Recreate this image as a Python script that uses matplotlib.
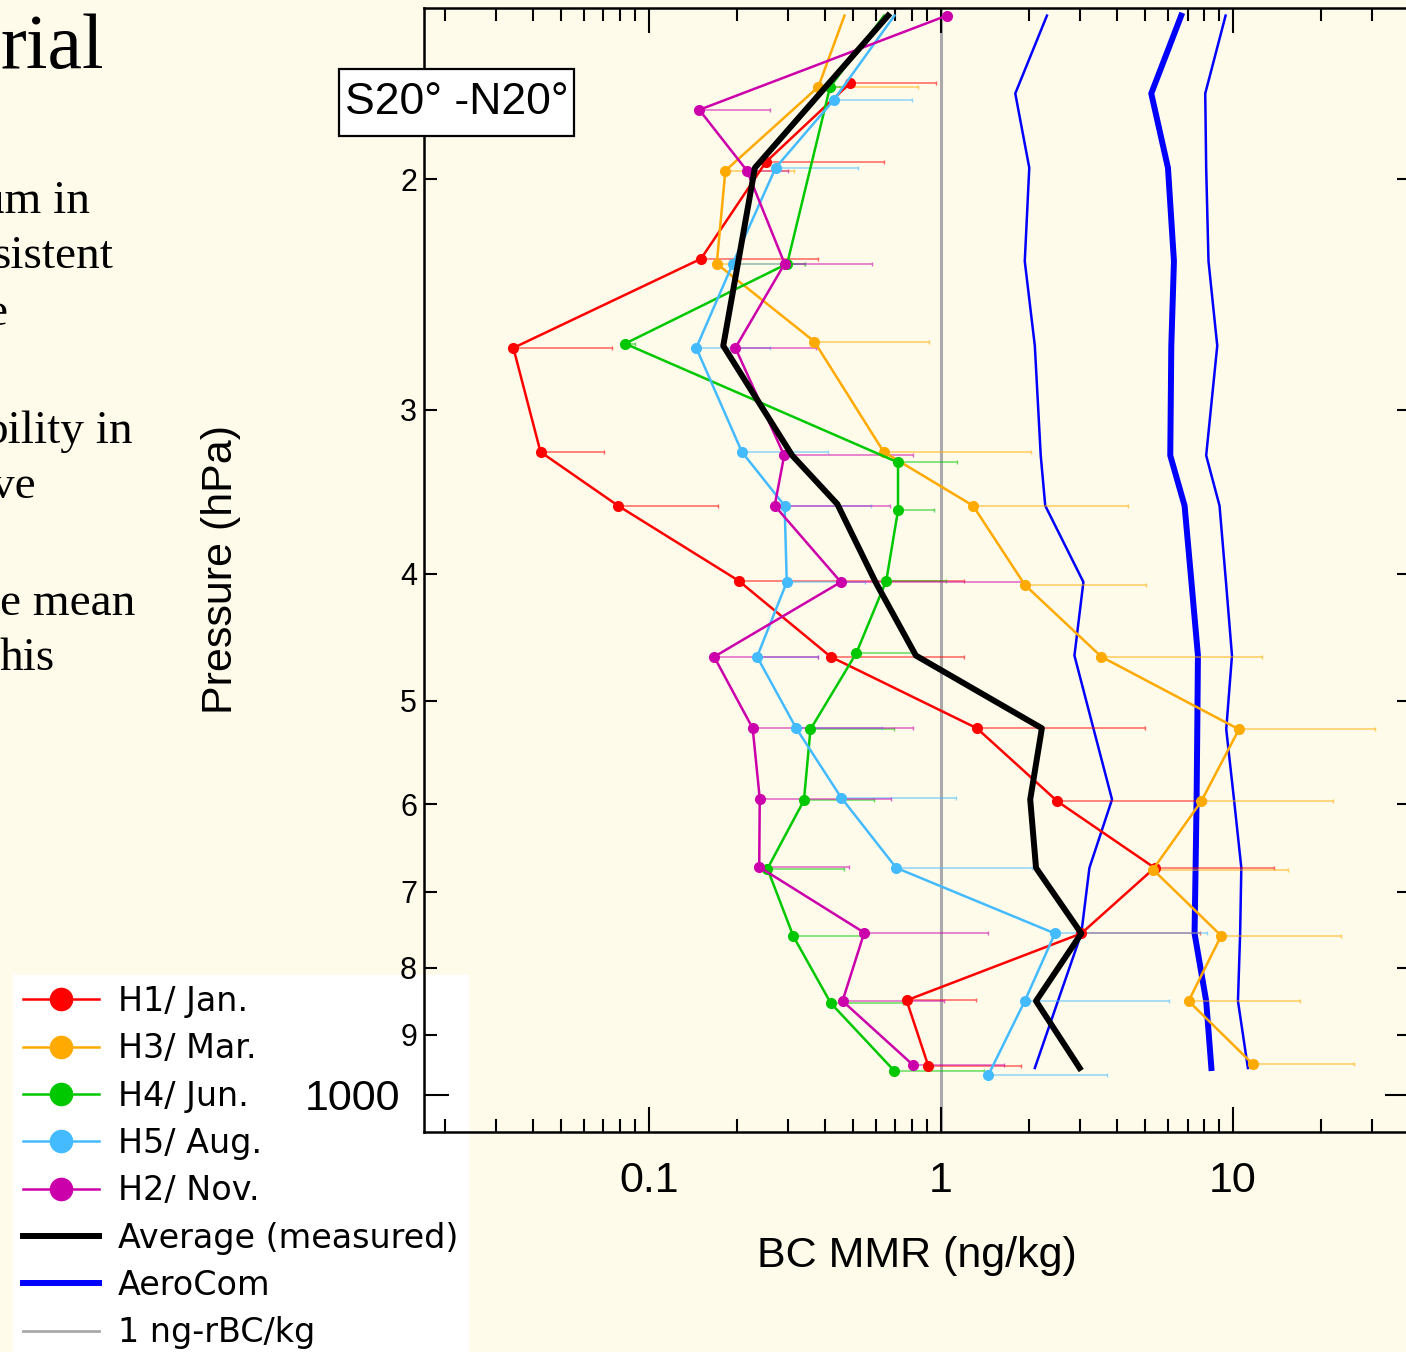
import matplotlib
matplotlib.use("Agg")
import matplotlib.pyplot as plt
import numpy as np
from matplotlib.lines import Line2D
from matplotlib.patches import Rectangle
from matplotlib.ticker import FixedLocator, FuncFormatter, NullFormatter

plt.rcParams["font.family"] = ["Liberation Sans", "DejaVu Sans"]

CREAM = "#FFFBEB"

# --- data --------------------------------------------------------------------
# pressure (hPa) / BC MMR (ng/kg) / upper end of the error bar
RED_P = [169, 194, 230, 269, 323, 355, 405, 463, 525, 597, 671, 753, 847, 950]
RED_X = [0.488, 0.252, 0.151, 0.0344, 0.0426, 0.0785, 0.203, 0.420, 1.33, 2.51, 5.40, 3.03, 0.764, 0.906]
RED_HI = [0.96, 0.638, 0.381, 0.075, 0.0705, 0.173, 1.20, 1.205, 4.99, 8.11, 13.8, 7.74, 1.32, 1.886]

ORANGE_P = [150, 170, 197, 232, 266, 323, 355, 408, 463, 526, 597, 673, 756, 848, 948]
ORANGE_X = [0.468, 0.381, 0.183, 0.171, 0.369, 0.638, 1.29, 1.94, 3.55, 10.5, 7.80, 5.33, 9.13, 7.06, 11.75]
ORANGE_HI = [np.nan, 0.838, 0.315, 0.34, 0.913, 2.03, 4.37, 5.04, 12.6, 30.8, 22.0, 15.5, 23.5, 17.0, 26.1]

GREEN_P = [150, 170, 232, 267, 329, 358, 405, 460, 526, 596, 672, 757, 851, 959]
GREEN_X = [0.64, 0.418, 0.298, 0.083, 0.714, 0.714, 0.651, 0.514, 0.358, 0.340, 0.255, 0.313, 0.420, 0.694]
GREEN_HI = [np.nan, 0.47, 0.343, 0.09, 1.136, 0.952, 1.04, 0.81, 0.694, 0.592, 0.466, 0.547, 0.744, 1.41]

CYAN_P = [150, 174, 196, 232, 269, 323, 355, 406, 463, 525, 593, 671, 753, 848, 966]
CYAN_X = [0.694, 0.430, 0.272, 0.194, 0.1455, 0.2085, 0.292, 0.297, 0.235, 0.320, 0.456, 0.704, 2.46, 1.94, 1.455]
CYAN_HI = [np.nan, 0.798, 0.52, 0.343, 0.261, 0.412, 0.578, 0.55, 0.379, 0.629, 1.126, 2.05, 8.18, 6.05, 3.70]

MAGENTA_P = [150, 177, 197, 232, 269, 325, 355, 406, 463, 525, 594, 670, 752, 848, 949]
MAGENTA_X = [1.048, 0.149, 0.217, 0.292, 0.198, 0.291, 0.270, 0.455, 0.1675, 0.227, 0.240, 0.239, 0.547, 0.461, 0.804]
MAGENTA_HI = [np.nan, 0.26, 0.30, 0.581, 0.373, 0.806, 0.669, 1.9, 0.38, 0.806, 0.675, 0.484, 1.45, 1.026, 1.65]

AVG_P = [150, 196, 232, 268, 325, 354, 406, 462, 525, 595, 671, 753, 848, 954]
AVG_X = [0.66, 0.231, 0.202, 0.180, 0.31, 0.4425, 0.598, 0.822, 2.22, 2.025, 2.12, 3.03, 2.12, 2.99]

AERO_P = [150, 172, 196, 231, 268, 325, 355, 406, 462, 526, 595, 671, 753, 848, 954]
AERO_LO = [2.31, 1.80, 2.01, 1.94, 2.10, 2.20, 2.28, 3.08, 2.87, 3.34, 3.86, 3.23, 3.03, 2.52, 2.10]
AERO_MID = [6.66, 5.26, 6.00, 6.29, 6.16, 6.11, 6.84, 7.22, 7.60, 7.56, 7.52, 7.46, 7.40, 8.11, 8.45]
AERO_HI = [9.45, 8.05, 8.11, 8.26, 8.85, 8.11, 9.01, 9.48, 9.94, 9.50, 10.1, 10.7, 10.6, 10.42, 11.27]

FLIGHTS = [
    ("H1/ Jan.", "#FF0000", RED_P, RED_X, RED_HI, 0),
    ("H3/ Mar.", "#FFAA00", ORANGE_P, ORANGE_X, ORANGE_HI, 1),
    ("H4/ Jun.", "#00C800", GREEN_P, GREEN_X, GREEN_HI, 1),
    ("H5/ Aug.", "#44BBFF", CYAN_P, CYAN_X, CYAN_HI, 1),
    ("H2/ Nov.", "#CC00AA", MAGENTA_P, MAGENTA_X, MAGENTA_HI, 0),
]

X_MAJOR = [0.1, 1, 10]
X_MINOR = [0.02, 0.03, 0.04, 0.05, 0.06, 0.07, 0.08, 0.09,
           0.2, 0.3, 0.4, 0.5, 0.6, 0.7, 0.8, 0.9,
           2, 3, 4, 5, 6, 7, 8, 9, 20, 30, 40]
Y_MAJOR = [1000]
Y_MINOR = [200, 300, 400, 500, 600, 700, 800, 900]

# --- figure ------------------------------------------------------------------
W, H = 1406, 1352
fig = plt.figure(figsize=(W / 100, H / 100), dpi=100, facecolor=CREAM)
ax = fig.add_axes([424 / W, 1 - 1131.7 / H, 985.5 / W, 1123.7 / H])
ax.set_facecolor("none")

ax.axvline(1, color="#AAAAAA", lw=2.2, zorder=1)

ax.plot(AERO_LO, AERO_P, color="#0000FF", lw=1.8, zorder=2)
ax.plot(AERO_MID, AERO_P, color="#0000FF", lw=4.3, zorder=2)
ax.plot(AERO_HI, AERO_P, color="#0000FF", lw=1.8, zorder=2)

for label, color, p, x, hi, skip in FLIGHTS:
    p, x, hi = np.array(p, float), np.array(x), np.array(hi)
    m = ~np.isnan(hi)
    ax.errorbar(x[m], p[m], xerr=[np.zeros(m.sum()), hi[m] - x[m]], fmt="none",
                ecolor=color, alpha=0.6, elinewidth=1.1, capsize=1.5, capthick=1, zorder=3)
    ax.plot(x, p, color=color, lw=1.8, marker="o", ms=8, mew=0,
            markevery=slice(skip, None), zorder=4)

ax.plot(AVG_X, AVG_P, color="black", lw=4.3, zorder=5)

ax.set_xscale("log")
ax.set_yscale("log")
ax.set_xlim(0.017, 40.3)
ax.set_ylim(1067, 148)

ax.xaxis.set_major_locator(FixedLocator(X_MAJOR))
ax.xaxis.set_minor_locator(FixedLocator(X_MINOR))
ax.xaxis.set_major_formatter(FuncFormatter(lambda v, _: f"{v:g}"))
ax.xaxis.set_minor_formatter(NullFormatter())
ax.yaxis.set_major_locator(FixedLocator(Y_MAJOR))
ax.yaxis.set_minor_locator(FixedLocator(Y_MINOR))
ax.yaxis.set_major_formatter(FuncFormatter(lambda v, _: f"{v:g}"))
ax.yaxis.set_minor_formatter(FuncFormatter(lambda v, _: f"{int(round(v / 100))}"))

ax.tick_params(which="both", direction="in", top=True, right=True, width=1.5, color="black")
ax.tick_params(which="major", length=18, labelsize=31)
ax.tick_params(axis="x", which="major", pad=21)
ax.tick_params(axis="y", which="major", pad=17)
ax.tick_params(axis="y", which="minor", length=9.5, labelsize=22, pad=5)
ax.tick_params(axis="x", which="minor", length=9.5)
for s in ax.spines.values():
    s.set_linewidth(1.8)

ax.set_xlabel("BC MMR (ng/kg)", fontsize=31)
ax.xaxis.set_label_coords(0.5, -0.0925)
ax.set_ylabel("Pressure (hPa)", fontsize=31)
ax.yaxis.set_label_coords(-0.1857, 0.5)

# region box
fig.add_artist(Rectangle((339 / W, 1 - 136 / H), 235 / W, 67 / H, transform=fig.transFigure,
                         facecolor="white", edgecolor="black", linewidth=1.6, zorder=3))
fig.text(456.5 / W, 1 - 103 / H, "S20° -N20°", fontsize=32, ha="center", va="center", zorder=4)

# legend (white box sits under the axes lines)
handles = [Line2D([], [], color=c, lw=1.8, marker="o", ms=17, mew=0) for _, c, *_ in FLIGHTS]
handles += [Line2D([], [], color="black", lw=4.3),
            Line2D([], [], color="#0000FF", lw=4.3),
            Line2D([], [], color="#AAAAAA", lw=2.0)]
labels = [f[0] for f in FLIGHTS] + ["Average (measured)", "AeroCom", "1 ng-rBC/kg"]
leg = fig.legend(handles, labels, loc="upper left", bbox_to_anchor=(13 / W, 1 - 975 / H),
                 borderaxespad=0, frameon=True, fancybox=False, facecolor="white",
                 edgecolor="white", framealpha=1, prop={"family": "DejaVu Sans", "size": 24},
                 handlelength=2.28, handletextpad=0.57, labelspacing=0.43, borderpad=0.3)
leg.set_zorder(-1)

# slide text cut off at the left edge
serif = dict(family="Liberation Serif", ha="right", va="baseline", color="black")
fig.text(104 / W, 1 - 68 / H, "rial", fontsize=56, **serif)
for txt, xr, yb in [("um in", 90, 213), ("sistent", 113, 268), ("e", 7, 325),
                    ("bility in", 133, 443), ("ve", 36, 498),
                    ("e mean", 135, 615), ("his", 55, 670)]:
    fig.text(xr / W, 1 - yb / H, txt, fontsize=34, **serif)

fig.savefig("out.png", dpi=100, facecolor=fig.get_facecolor())
